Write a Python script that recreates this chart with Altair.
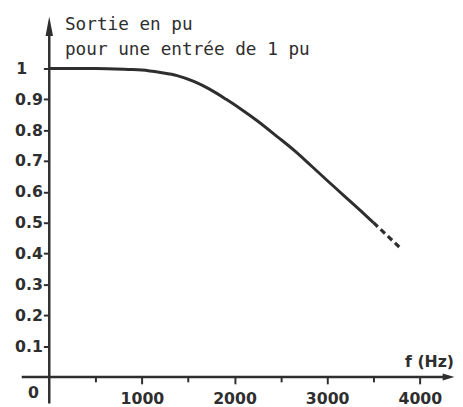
import altair as alt
import pandas as pd

# Curve (frequency in Hz, output in pu)
freq_solid = [0, 500, 850, 1000, 1200, 1380, 1560, 1730, 1910, 2090, 2230, 2470, 2650, 2830, 3000, 3180, 3360, 3500]
out_solid = [1.0, 1.0, 0.997, 0.995, 0.987, 0.977, 0.958, 0.933, 0.900, 0.864, 0.834, 0.777, 0.733, 0.684, 0.637, 0.588, 0.539, 0.500]
freq_dash = [3500, 3786]
out_dash = [0.500, 0.419]

y_ticks = [0.1, 0.2, 0.3, 0.4, 0.5, 0.6, 0.7, 0.8, 0.9, 1.0]
x_ticks = [500, 1000, 1500, 2000, 2500, 3000, 3500, 4000]

title_lines = ["Sortie en pu", "pour une entrée de 1 pu"]
x_label = "f (Hz)"
origin_label = "0"

INK = "#2e2e2e"
XDOM = [-445.4, 4379.6]
YDOM = [-0.086, 1.1847]
W, H = 455, 399

xs = alt.Scale(domain=XDOM, nice=False, zero=False)
ys = alt.Scale(domain=YDOM, nice=False, zero=False)

solid = pd.DataFrame({"f": freq_solid, "v": out_solid})
dash = pd.DataFrame({"f": freq_dash, "v": out_dash})

curve = alt.Chart(solid).mark_line(color=INK, strokeWidth=3, interpolate="monotone").encode(
    x=alt.X("f:Q", scale=xs, axis=alt.Axis(
        values=x_ticks, orient="bottom", offset=-27, domain=False, grid=False,
        title=None, format="d",
        labelExpr="datum.value % 1000 == 0 ? datum.label : ''",
        tickSize={"condition": {"test": "datum.value % 1000 == 0", "value": 7}, "value": 5},
        tickWidth=2, tickColor=INK, labelColor=INK,
        labelFont="DejaVu Sans", labelFontWeight="bold", labelFontSize=16,
        labelPadding=7, labelFlush=False, labelOverlap=False)),
    y=alt.Y("v:Q", scale=ys, axis=alt.Axis(
        values=y_ticks, orient="left", offset=-42, domain=False, grid=False,
        title=None,
        labelExpr="datum.value == 1 ? '1' : format(datum.value, '.1f')",
        tickSize=6, tickWidth=2, tickColor=INK, labelColor=INK,
        labelFont="DejaVu Sans", labelFontWeight="bold", labelFontSize=16,
        labelPadding={"condition": {"test": "datum.value == 1", "value": 17}, "value": 1},
        labelFlush=False, labelOverlap=False)),
)

dashed = alt.Chart(dash).mark_line(color=INK, strokeWidth=3.2, strokeDash=[6, 4]).encode(
    x=alt.X("f:Q", scale=xs), y=alt.Y("v:Q", scale=ys))

yaxis_line = alt.Chart(alt.Data(values=[{"f": 0, "a": -0.086, "b": 1.13}])).mark_rule(
    color=INK, strokeWidth=2.5).encode(
    x=alt.X("f:Q", scale=xs), y=alt.Y("a:Q", scale=ys), y2="b:Q")

xaxis_line = alt.Chart(alt.Data(values=[{"v": 0, "a": -297, "b": 4300}])).mark_rule(
    color=INK, strokeWidth=2.5).encode(
    y=alt.Y("v:Q", scale=ys), x=alt.X("a:Q", scale=xs), x2="b:Q")

up_arrow = alt.Chart(alt.Data(values=[{"f": 0, "v": 1.137}])).mark_point(
    shape="M0,-1 L0.38,1 L-0.38,1 Z", size=400, filled=True, color=INK, opacity=1).encode(
    x=alt.X("f:Q", scale=xs), y=alt.Y("v:Q", scale=ys))

right_arrow = alt.Chart(alt.Data(values=[{"f": 4310, "v": 0}])).mark_point(
    shape="M1,0 L-1,-0.6 L-1,0.6 Z", size=144, filled=True, color=INK, opacity=1).encode(
    x=alt.X("f:Q", scale=xs), y=alt.Y("v:Q", scale=ys))

title1 = alt.Chart(alt.Data(values=[{"t": title_lines[0]}])).mark_text(
    font="DejaVu Sans Mono", fontSize=18, color=INK, align="left", baseline="alphabetic").encode(
    text="t:N", x=alt.value(58), y=alt.value(19))
title2 = alt.Chart(alt.Data(values=[{"t": title_lines[1]}])).mark_text(
    font="DejaVu Sans Mono", fontSize=18, color=INK, align="left", baseline="alphabetic").encode(
    text="t:N", x=alt.value(58), y=alt.value(44))

xlab = alt.Chart(alt.Data(values=[{"t": x_label}])).mark_text(
    font="DejaVu Sans", fontWeight="bold", fontSize=16, color=INK, align="right",
    baseline="alphabetic").encode(text="t:N", x=alt.value(454), y=alt.value(362))

olab = alt.Chart(alt.Data(values=[{"t": origin_label}])).mark_text(
    font="DejaVu Sans", fontWeight="bold", fontSize=16, color=INK, align="center",
    baseline="middle").encode(text="t:N", x=alt.value(26), y=alt.value(388))

chart = alt.layer(
    curve, dashed, yaxis_line, xaxis_line, up_arrow, right_arrow,
    title1, title2, xlab, olab
).properties(
    width=W, height=H, autosize=alt.AutoSizeParams(type="none"), padding=0,
    background="white"
).configure_view(stroke=None)

chart.save("out.html", embed_options={"renderer": "svg", "actions": False})
